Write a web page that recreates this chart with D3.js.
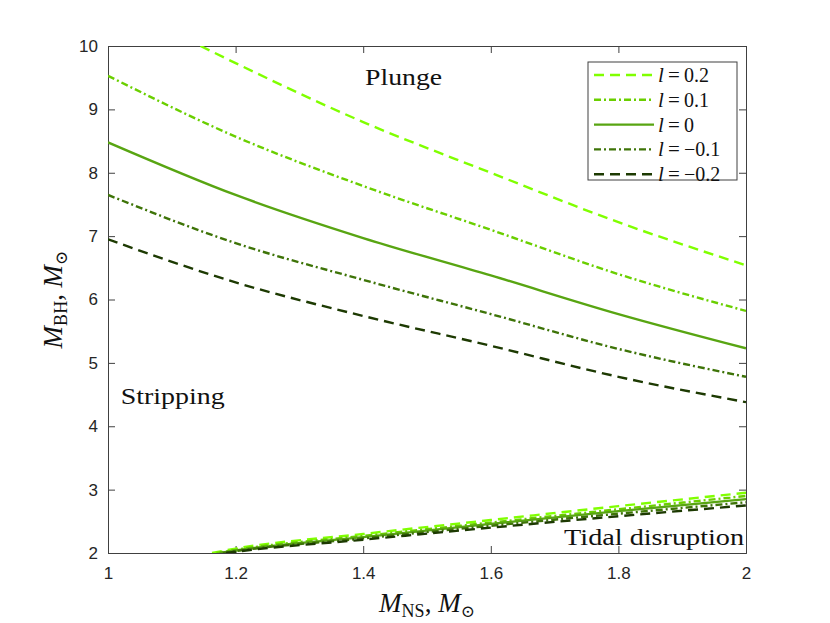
<!DOCTYPE html>
<html>
<head>
<meta charset="utf-8">
<script src="https://cdn.jsdelivr.net/npm/d3@7"></script>
<style>
  body { margin: 0; background: #fff; }
  .tick text { font-family: "Liberation Sans", Arial, sans-serif; font-size: 17px; fill: #262626; }
  .axis path, .axis line { stroke: #404040; }
  .serif { font-family: "Liberation Serif", "DejaVu Serif", serif; fill: #111; }
</style>
</head>
<body>
<div id="chart-area"></div>
<script>
// Spin parameter labels, one per curve
var spinLabels = ["0.2", "0.1", "0", "\u22120.1", "\u22120.2"];

// Upper boundary (plunge / stripping)
var plungeNS    = [1.0, 1.2, 1.4, 1.6, 1.8, 2.0];
var plungeNS02  = [1.145, 1.2, 1.4, 1.6, 1.8, 2.0];
var plungeL02   = [10.0, 9.73, 8.80, 8.00, 7.22, 6.54];
var plungeL01   = [9.53, 8.57, 7.79, 7.10, 6.40, 5.82];
var plungeL0    = [8.48, 7.65, 6.97, 6.38, 5.77, 5.23];
var plungeLm01  = [7.65, 6.89, 6.31, 5.77, 5.22, 4.78];
var plungeLm02  = [6.95, 6.27, 5.74, 5.27, 4.78, 4.38];

// Lower boundary (tidal disruption / stripping)
var tidalNS02  = [1.163, 1.2, 1.4, 1.6, 1.8, 2.0];
var tidalNS01  = [1.170, 1.2, 1.4, 1.6, 1.8, 2.0];
var tidalNS0   = [1.175, 1.2, 1.4, 1.6, 1.8, 2.0];
var tidalNSm01 = [1.180, 1.2, 1.4, 1.6, 1.8, 2.0];
var tidalNSm02 = [1.185, 1.2, 1.4, 1.6, 1.8, 2.0];
var tidalL02   = [2.0, 2.07, 2.30, 2.52, 2.74, 2.95];
var tidalL01   = [2.0, 2.05, 2.27, 2.48, 2.69, 2.90];
var tidalL0    = [2.0, 2.04, 2.25, 2.46, 2.66, 2.85];
var tidalLm01  = [2.0, 2.03, 2.23, 2.43, 2.62, 2.80];
var tidalLm02  = [2.0, 2.02, 2.21, 2.40, 2.58, 2.75];

var xTicks = [1, 1.2, 1.4, 1.6, 1.8, 2];
var yTicks = [2, 3, 4, 5, 6, 7, 8, 9, 10];

var upper = [
    { ns: plungeNS02, bh: plungeL02 },
    { ns: plungeNS, bh: plungeL01 },
    { ns: plungeNS, bh: plungeL0 },
    { ns: plungeNS, bh: plungeLm01 },
    { ns: plungeNS, bh: plungeLm02 }
];
var lower = [
    { ns: tidalNS02, bh: tidalL02 },
    { ns: tidalNS01, bh: tidalL01 },
    { ns: tidalNS0, bh: tidalL0 },
    { ns: tidalNSm01, bh: tidalLm01 },
    { ns: tidalNSm02, bh: tidalLm02 }
];

var colors = ["#80ff00", "#6acf00", "#58a512", "#3e7408", "#1d3a02"];
var dashes = ["10,6", "7,3,2,3", null, "7,3,2,3", "10,6"];

var margin = { left: 108, right: 84, top: 46, bottom: 70 };
var width = 830 - margin.left - margin.right,
    height = 623 - margin.top - margin.bottom;

var svg = d3.select("#chart-area")
    .append("svg")
        .attr("width", 830)
        .attr("height", 623);

var g = svg.append("g")
    .attr("transform", "translate(" + margin.left + ", " + margin.top + ")");

var x = d3.scaleLinear().domain([1, 2]).range([0, width]);
var y = d3.scaleLinear().domain([2, 10]).range([height, 0]);

g.append("clipPath").attr("id", "clip")
    .append("rect").attr("width", width).attr("height", height);

// Axes with inward ticks, mirrored on top/right
g.append("g").attr("class", "axis")
    .attr("transform", "translate(0," + height + ")")
    .call(d3.axisBottom(x).tickValues(xTicks).tickSize(-7).tickPadding(14)
        .tickFormat(function(d){ return d === 1 || d === 2 ? d : d3.format(".1f")(d); }));
g.append("g").attr("class", "axis")
    .call(d3.axisTop(x).tickValues(xTicks).tickSize(-7).tickFormat(""));
g.append("g").attr("class", "axis")
    .call(d3.axisLeft(y).tickValues(yTicks).tickSize(-7).tickPadding(10));
g.append("g").attr("class", "axis")
    .attr("transform", "translate(" + width + ",0)")
    .call(d3.axisRight(y).tickValues(yTicks).tickSize(-7).tickFormat(""));

var line = d3.line()
    .x(function(d){ return x(d[0]); })
    .y(function(d){ return y(d[1]); })
    .curve(d3.curveMonotoneX);

function pts(s) { return s.ns.map(function(v, i){ return [v, s.bh[i]]; }); }

var curves = g.append("g").attr("clip-path", "url(#clip)");
[upper, lower].forEach(function(set){
    set.forEach(function(s, i){
        curves.append("path")
            .attr("d", line(pts(s)))
            .attr("fill", "none")
            .attr("stroke", colors[i])
            .attr("stroke-width", 2.4)
            .attr("stroke-dasharray", dashes[i]);
    });
});

// Region labels
g.append("text").attr("class", "serif").attr("font-size", "24px")
    .attr("x", x(1.403)).attr("y", y(9.38))
    .attr("textLength", 77).attr("lengthAdjust", "spacingAndGlyphs").text("Plunge");
g.append("text").attr("class", "serif").attr("font-size", "24px")
    .attr("x", x(1.02)).attr("y", y(4.35))
    .attr("textLength", 104).attr("lengthAdjust", "spacingAndGlyphs").text("Stripping");
g.append("text").attr("class", "serif").attr("font-size", "24px")
    .attr("x", x(1.997) - 180).attr("y", y(2.13))
    .attr("textLength", 180).attr("lengthAdjust", "spacingAndGlyphs").text("Tidal disruption");

// Legend
var legend = g.append("g").attr("transform", "translate(" + (width - 158) + ",16)");
legend.append("rect")
    .attr("width", 149).attr("height", 118)
    .attr("fill", "#fff").attr("stroke", "#404040").attr("stroke-width", 1);
spinLabels.forEach(function(lab, i){
    var ly = 13 + i * 24.8;
    legend.append("line")
        .attr("x1", 6).attr("x2", 66).attr("y1", ly).attr("y2", ly)
        .attr("stroke", colors[i]).attr("stroke-width", 2.4)
        .attr("stroke-dasharray", dashes[i]);
    legend.append("text").attr("class", "serif").attr("font-size", "21px")
        .attr("font-style", "italic").attr("x", 70).attr("y", ly + 7).text("l");
    legend.append("text").attr("class", "serif").attr("font-size", "21px")
        .attr("x", 80).attr("y", ly + 7).text("=");
    legend.append("text").attr("class", "serif").attr("font-size", "20px")
        .attr("x", 96).attr("y", ly + 7).text(lab);
});

// Axis labels
var xl = svg.append("text").attr("class", "serif").attr("font-size", "27px")
    .attr("x", margin.left + width / 2).attr("y", 612).attr("text-anchor", "middle");
xl.append("tspan").attr("font-style", "italic").text("M");
xl.append("tspan").attr("font-size", "18px").attr("dy", 5).text("NS");
xl.append("tspan").attr("dy", -5).text(", ");
xl.append("tspan").attr("font-style", "italic").text("M");
xl.append("tspan").attr("font-size", "17px").attr("dy", 5).text("\u2299");

var yl = svg.append("text").attr("class", "serif").attr("font-size", "27px")
    .attr("transform", "translate(62," + (margin.top + height / 2) + ") rotate(-90)")
    .attr("text-anchor", "middle");
yl.append("tspan").attr("font-style", "italic").text("M");
yl.append("tspan").attr("font-size", "18px").attr("dy", 5).text("BH");
yl.append("tspan").attr("dy", -5).text(", ");
yl.append("tspan").attr("font-style", "italic").text("M");
yl.append("tspan").attr("font-size", "17px").attr("dy", 5).text("\u2299");
</script>
</body>
</html>
